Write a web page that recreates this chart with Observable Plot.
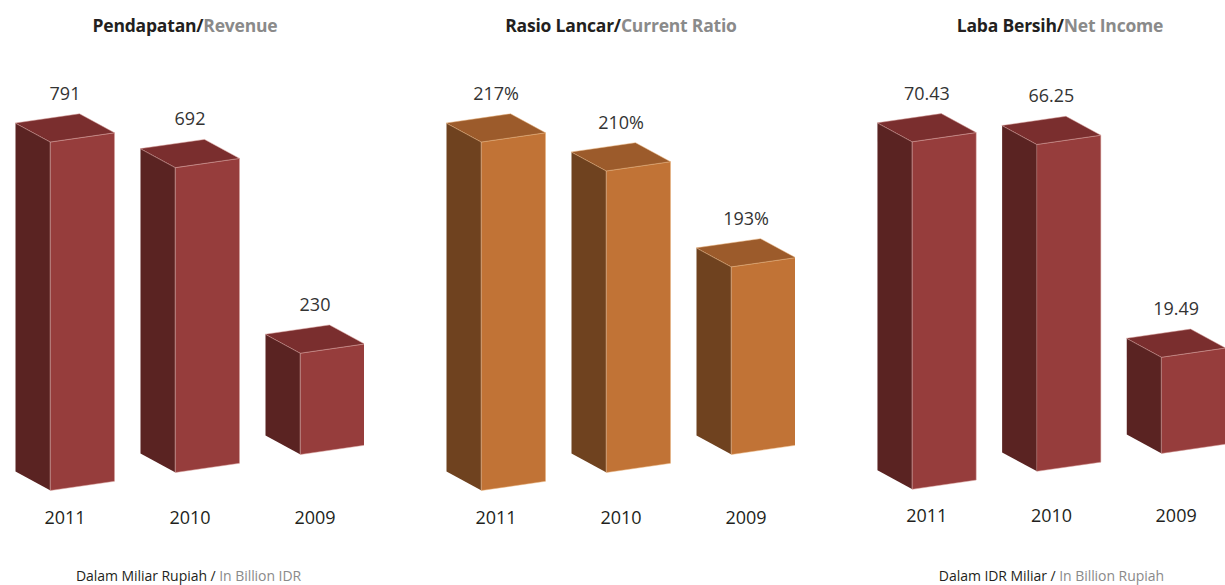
<!DOCTYPE html>
<html><head><meta charset="utf-8">
<script src="https://cdn.jsdelivr.net/npm/d3@7"></script>
<script src="https://cdn.jsdelivr.net/npm/@observablehq/plot@0.6"></script>
<style>
body{margin:0;background:#fff;font-family:"Open Sans",sans-serif;}
#wrap{position:relative;width:1225px;height:585px;overflow:hidden;}
.title{position:absolute;top:13px;font-weight:700;font-size:17.5px;white-space:nowrap;transform:translateX(-50%);color:#231f20;letter-spacing:-0.2px}
.title span{color:#8a8a8a}
.panel{position:absolute;top:50px;overflow:hidden;}
.note{position:absolute;top:566px;font-size:14px;color:#231f20;white-space:nowrap;letter-spacing:-0.05px}
.note span{color:#8a8a8a}
</style></head><body><div id="wrap"></div>
<script>
const years = ["2011", "2010", "2009"];
const revenue = [791, 692, 230];
const currentRatio = [217, 210, 193];
const netIncome = [70.43, 66.25, 19.49];
const revenueLabels = ["791", "692", "230"];
const ratioLabels = ["217%", "210%", "193%"];
const incomeLabels = ["70.43", "66.25", "19.49"];
const titles = [["Pendapatan/", "Revenue"], ["Rasio Lancar/", "Current Ratio"], ["Laba Bersih/", "Net Income"]];
const notes = [["Dalam Miliar Rupiah / ", "In Billion IDR"], ["Dalam IDR Miliar / ", "In Billion Rupiah"]];

const red = {front: "#963d3c", top: "#7a2e2e", left: "#5a2322", edge: "#d8a09c"};
const orange = {front: "#c17336", top: "#9c5b2b", left: "#6f421f", edge: "#e8b27c"};

const panels = [
  {values: revenue, labels: revenueLabels, domain: [0, 791], pal: red, left: 0, title: titles[0], tx: 185},
  {values: currentRatio, labels: ratioLabels, domain: [165, 217], pal: orange, left: 431, title: titles[1], tx: 621},
  {values: netIncome, labels: incomeLabels, domain: [0, 70.43], pal: red, left: 862, title: titles[2], tx: 1060}
];

const wrap = document.getElementById("wrap");

function makePanel(p) {
  const H = 348.5;             // px for the domain span
  const span = p.domain[1] - p.domain[0];
  const u = px => px * span / H;   // px -> value units
  const W = 0.512, DX = -0.28, DY = 19, SK = 18;
  const base = x => p.domain[0] + u(SK * x);
  const rows = [];
  p.values.forEach((v, i) => {
    const x0 = i, x1 = i + W;
    const b0 = base(x0), b1 = base(x1);
    const t0 = b0 + v - p.domain[0], t1 = b1 + v - p.domain[0];
    const faces = {
      left: [[x0 + DX, b0 + u(DY)], [x0, b0], [x0, t0], [x0 + DX, t0 + u(DY)]],
      front: [[x0, b0], [x1, b1], [x1, t1], [x0, t0]],
      top: [[x0, t0], [x1, t1], [x1 + DX, t1 + u(DY)], [x0 + DX, t0 + u(DY)]]
    };
    for (const f in faces) faces[f].forEach(([x, y]) => rows.push({id: f + i, face: f, x, y}));
  });
  const cx = (W + DX) / 2;
  const face = f => rows.filter(d => d.face === f);
  return Plot.plot({
    width: 364, height: 490,
    marginTop: 0, marginBottom: 50, marginLeft: 0, marginRight: 0,
    style: {fontFamily: "Open Sans, sans-serif", fontSize: "18px", color: "#231f20", background: "transparent", overflow: "visible"},
    x: {domain: [-0.4, 2.512], range: [0, 364], axis: null},
    y: {domain: p.domain, range: [440, 440 - H], axis: null},
    marks: [
      Plot.line(face("left"), {x: "x", y: "y", z: "id", fill: p.pal.left, stroke: "none", curve: "linear-closed"}),
      Plot.line(face("front"), {x: "x", y: "y", z: "id", fill: p.pal.front, stroke: p.pal.edge, strokeWidth: 0.5, curve: "linear-closed"}),
      Plot.line(face("top"), {x: "x", y: "y", z: "id", fill: p.pal.top, stroke: p.pal.edge, strokeWidth: 0.5, curve: "linear-closed"}),
      Plot.text(p.values, {x: (d, i) => i + cx, y: (d, i) => base(i) + d - p.domain[0] + u(DY), text: (d, i) => p.labels[i], dy: -29, fontSize: 18, fill: "#333"}),
      Plot.text(years, {x: (d, i) => i + cx, frameAnchor: "bottom", dy: 33, text: d => d, fontSize: 18, fill: "#231f20"})
    ]
  });
}

panels.forEach(p => {
  const t = document.createElement("div");
  t.className = "title";
  t.style.left = p.tx + "px";
  t.innerHTML = `${p.title[0]}<span>${p.title[1]}</span>`;
  wrap.appendChild(t);
  const d = document.createElement("div");
  d.className = "panel";
  d.style.left = p.left + "px";
  d.style.width = Math.min(364, 1225 - p.left) + "px";
  d.appendChild(makePanel(p));
  wrap.appendChild(d);
});

const n1 = document.createElement("div");
n1.className = "note"; n1.style.left = "76px";
n1.innerHTML = `${notes[0][0]}<span>${notes[0][1]}</span>`;
wrap.appendChild(n1);
const n2 = document.createElement("div");
n2.className = "note"; n2.style.right = (1225 - 1164) + "px";
n2.innerHTML = `${notes[1][0]}<span>${notes[1][1]}</span>`;
wrap.appendChild(n2);
</script></body></html>
